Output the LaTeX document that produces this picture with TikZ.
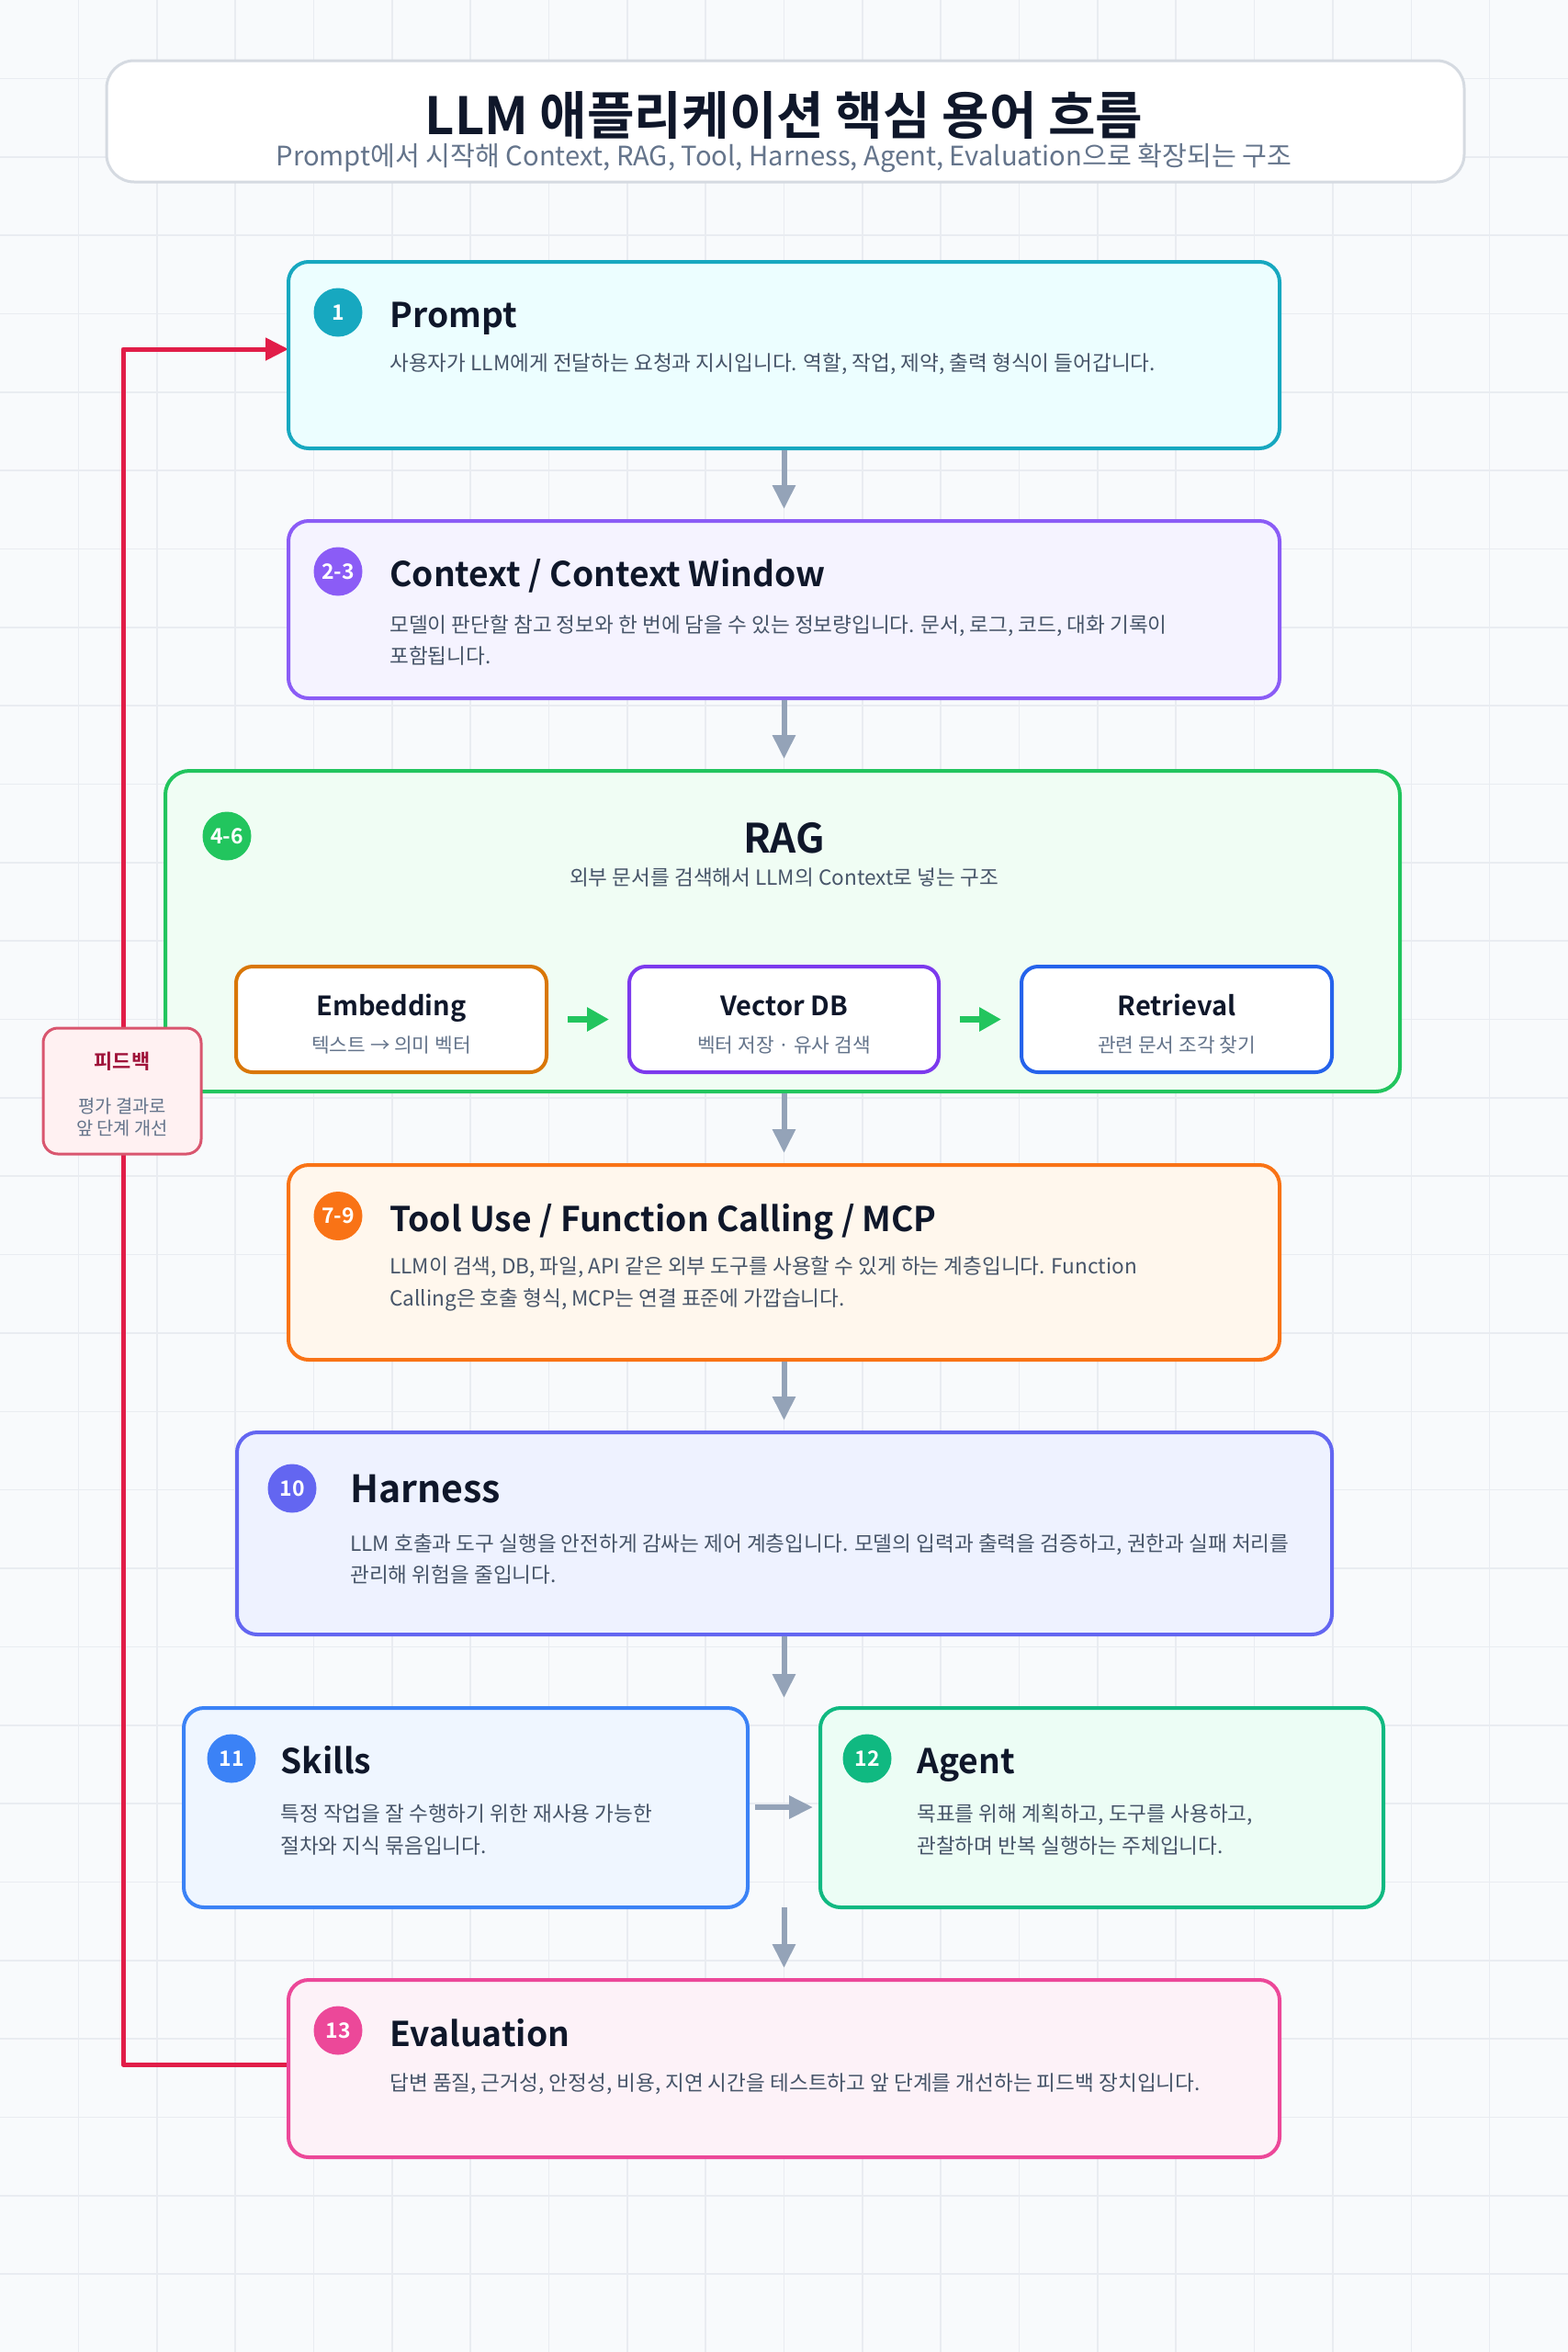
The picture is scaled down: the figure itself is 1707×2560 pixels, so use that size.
\documentclass[tikz,border=0pt]{standalone}
\usepackage{fontspec}
\setmainfont{Noto Sans CJK KR}[BoldFont={Noto Sans CJK KR Bold}]
\usetikzlibrary{arrows.meta,calc,fit}
\definecolor{bgc}{HTML}{F8FAFC}
\definecolor{gridc}{HTML}{E9ECF1}
\definecolor{titlec}{HTML}{0F172A}
\definecolor{descc}{HTML}{475569}
\definecolor{subc}{HTML}{64748B}
\definecolor{arrowc}{HTML}{94A3B8}
\definecolor{hdrline}{HTML}{D5DAE1}
\definecolor{cyanB}{HTML}{17A8C0}\definecolor{cyanF}{HTML}{ECFEFF}
\definecolor{violB}{HTML}{8B5CF6}\definecolor{violF}{HTML}{F5F3FF}
\definecolor{greenB}{HTML}{22C55E}\definecolor{greenF}{HTML}{F0FDF4}
\definecolor{orangeB}{HTML}{F97316}\definecolor{orangeF}{HTML}{FFF7ED}
\definecolor{indigoB}{HTML}{6366F1}\definecolor{indigoF}{HTML}{EEF2FF}
\definecolor{blueB}{HTML}{3B82F6}\definecolor{blueF}{HTML}{EFF6FF}
\definecolor{emerB}{HTML}{10B981}\definecolor{emerF}{HTML}{ECFDF5}
\definecolor{pinkB}{HTML}{EC4899}\definecolor{pinkF}{HTML}{FDF2F8}
\definecolor{amberB}{HTML}{D97706}
\definecolor{violdB}{HTML}{7C3AED}
\definecolor{bluedB}{HTML}{2563EB}
\definecolor{fbred}{HTML}{E11D48}
\definecolor{fbbord}{HTML}{D9566F}
\definecolor{fbfill}{HTML}{FFF1F2}
\definecolor{fbtitle}{HTML}{9F1239}
\begin{document}
\begin{tikzpicture}[x=0.5pt,y=-0.5pt,
  card/.style 2 args={draw=#1, fill=#2, line width=2pt, rounded corners=11pt, inner sep=0pt},
  subcard/.style={draw=#1, fill=white, line width=2pt, rounded corners=9pt, inner sep=0pt},
  badge/.style={circle, fill=#1, text=white, font=\bfseries\fontsize{11.5}{12}\selectfont, minimum size=26.5pt, inner sep=0pt},
  ttl/.style={anchor=base west, inner sep=0pt, text=titlec, font=\bfseries\fontsize{18.6}{20}\selectfont},
  dsc/.style={anchor=base west, inner sep=0pt, text=descc, font=\fontsize{11.3}{13}\selectfont},
  subttl/.style={anchor=base, inner sep=0pt, text=titlec, font=\bfseries\fontsize{14.5}{16}\selectfont},
  subdsc/.style={anchor=base, inner sep=0pt, text=subc, font=\fontsize{10.7}{12}\selectfont},
  flow/.style={-{Triangle[width=12pt,length=13pt]}, line width=3pt, draw=arrowc, shorten >=5.5pt},
  gflow/.style={-{Triangle[width=12.5pt,length=12pt]}, line width=3.5pt, draw=greenB, shorten <=10.5pt, shorten >=10pt},
  fb/.style={-{Triangle[width=12pt,length=12.5pt]}, line width=2.5pt, draw=fbred, line join=round}
]
\fill[bgc] (0,0) rectangle (1707,2560);
\useasboundingbox (0,0) rectangle (1707,2560);
\foreach \i in {1,...,19} \draw[gridc, line width=0.8pt] (\i*85.35,0) -- (\i*85.35,2560);
\foreach \j in {1,...,29} \draw[gridc, line width=0.8pt] (0,\j*85.35) -- (1707,\j*85.35);

% header
\node[draw=hdrline, fill=white, line width=1.5pt, rounded corners=15pt, inner sep=0pt, fit={(116,66) (1594,198)}] (hdr) {};
\node[anchor=base, inner sep=0pt, text=titlec, font=\bfseries\fontsize{28}{30}\selectfont] (hdrtitle) at (853.5,146) {LLM 애플리케이션 핵심 용어 흐름};
\node[anchor=base, inner sep=0pt, text=subc, font=\fontsize{14.6}{16}\selectfont] (hdrsub) at (853.5,180) {Prompt에서 시작해 Context, RAG, Tool, Harness, Agent, Evaluation으로 확장되는 구조};

% feedback loop line (under boxes)
\coordinate (fbS) at (314,2247);
\coordinate (fbA) at (134,2247);
\coordinate (fbB) at (134,380);
\coordinate (fbE) at (314,380);
\draw[fb] (fbS) -- (fbA) -- (fbB) -- (fbE);

% Prompt
\node[card={cyanB}{cyanF}, fit={(314,285) (1393,488)}] (prompt) {};
\node[badge=cyanB] (b1) at (368,340) {1};
\node[ttl] (t1) at (424,356) {Prompt};
\node[dsc] (d1) at (424,403) {사용자가 LLM에게 전달하는 요청과 지시입니다. 역할, 작업, 제약, 출력 형식이 들어갑니다.};

% Context
\node[card={violB}{violF}, fit={(314,567) (1393,760)}] (context) {};
\node[badge=violB] (b2) at (368,622) {2-3};
\node[ttl] (t2) at (424,638) {Context / Context Window};
\node[dsc] (d2a) at (424,688) {모델이 판단할 참고 정보와 한 번에 담을 수 있는 정보량입니다. 문서, 로그, 코드, 대화 기록이};
\node[dsc] (d2b) at (424,722) {포함됩니다.};

% RAG
\node[card={greenB}{greenF}, rounded corners=13pt, fit={(180,839) (1524,1188)}] (rag) {};
\node[badge=greenB] (b3) at (247,910) {4-6};
\node[anchor=base, inner sep=0pt, text=titlec, font=\bfseries\fontsize{22}{24}\selectfont] (t3) at (853.5,928) {RAG};
\node[anchor=base, inner sep=0pt, text=descc, font=\fontsize{11.3}{13}\selectfont] (d3) at (853.5,963) {외부 문서를 검색해서 LLM의 Context로 넣는 구조};

\node[subcard=amberB, fit={(257,1052) (595,1167)}] (emb) {};
\node[subttl] (embt) at (426,1105) {Embedding};
\node[subdsc] (embd) at (426,1145) {텍스트 → 의미 벡터};
\node[subcard=violdB, fit={(685,1052) (1022,1167)}] (vdb) {};
\node[subttl] (vdbt) at (853.5,1105) {Vector DB};
\node[subdsc] (vdbd) at (853.5,1145) {벡터 저장 · 유사 검색};
\node[subcard=bluedB, fit={(1112,1052) (1450,1167)}] (ret) {};
\node[subttl] (rett) at (1281,1105) {Retrieval};
\node[subdsc] (retd) at (1281,1145) {관련 문서 조각 찾기};
\draw[gflow] (emb) -- (vdb);
\draw[gflow] (vdb) -- (ret);

% Tool
\node[card={orangeB}{orangeF}, fit={(314,1268) (1393,1480)}] (tool) {};
\node[badge=orangeB] (b4) at (368,1323.5) {7-9};
\node[ttl] (t4) at (424,1340) {Tool Use / Function Calling / MCP};
\node[dsc] (d4a) at (424,1386) {LLM이 검색, DB, 파일, API 같은 외부 도구를 사용할 수 있게 하는 계층입니다. Function};
\node[dsc] (d4b) at (424,1421) {Calling은 호출 형식, MCP는 연결 표준에 가깝습니다.};

% Harness
\node[card={indigoB}{indigoF}, fit={(258,1559) (1450,1779)}] (harness) {};
\node[badge=indigoB] (b5) at (318,1620) {10};
\node[ttl, font=\bfseries\fontsize{20.5}{22}\selectfont] (t5) at (381,1635) {Harness};
\node[dsc] (d5a) at (381,1688) {LLM 호출과 도구 실행을 안전하게 감싸는 제어 계층입니다. 모델의 입력과 출력을 검증하고, 권한과 실패 처리를};
\node[dsc] (d5b) at (381,1722) {관리해 위험을 줄입니다.};

% Skills
\node[card={blueB}{blueF}, fit={(200,1859) (814,2076)}] (skills) {};
\node[badge=blueB] (b6) at (252,1914) {11};
\node[ttl] (t6) at (305,1930) {Skills};
\node[dsc] (d6a) at (305,1982) {특정 작업을 잘 수행하기 위한 재사용 가능한};
\node[dsc] (d6b) at (305,2017) {절차와 지식 묶음입니다.};

% Agent
\node[card={emerB}{emerF}, fit={(893,1859) (1506,2076)}] (agent) {};
\node[badge=emerB] (b7) at (944,1914) {12};
\node[ttl] (t7) at (998,1930) {Agent};
\node[dsc] (d7a) at (998,1982) {목표를 위해 계획하고, 도구를 사용하고,};
\node[dsc] (d7b) at (998,2017) {관찰하며 반복 실행하는 주체입니다.};

% Evaluation
\node[card={pinkB}{pinkF}, fit={(314,2155) (1393,2348)}] (eval) {};
\node[badge=pinkB] (b8) at (368,2210) {13};
\node[ttl] (t8) at (424,2227) {Evaluation};
\node[dsc] (d8) at (424,2275) {답변 품질, 근거성, 안정성, 비용, 지연 시간을 테스트하고 앞 단계를 개선하는 피드백 장치입니다.};

% flow arrows
\coordinate (rowtop) at (853.5,1859);
\coordinate (rowbot) at (853.5,2076);
\draw[flow] (prompt.south) -- (prompt.south |- context.north);
\draw[flow] (context.south) -- (context.south |- rag.north);
\draw[flow] (context.south |- rag.south) -- (context.south |- tool.north);
\draw[flow] (tool.south) -- (tool.south |- harness.north);
\draw[flow] (tool.south |- harness.south) -- (rowtop);
\draw[flow] (rowbot) -- (rowbot |- eval.north);
\draw[flow, shorten <=3pt, shorten >=3pt] (skills.east |- 0,1967) -- (agent.west |- 0,1967);

% feedback box
\node[draw=fbbord, fill=fbfill, line width=1.5pt, rounded corners=8pt, inner sep=0pt, fit={(47,1119) (219,1256)}] (fbbox) {};
\node[anchor=base, inner sep=0pt, text=fbtitle, font=\bfseries\fontsize{11}{12}\selectfont] (fbt) at (133,1163) {피드백};
\node[anchor=base, inner sep=0pt, text=subc, font=\fontsize{9.9}{11}\selectfont] (fbl1) at (133,1211) {평가 결과로};
\node[anchor=base, inner sep=0pt, text=subc, font=\fontsize{9.9}{11}\selectfont] (fbl2) at (133,1235) {앞 단계 개선};
\end{tikzpicture}
\end{document}
